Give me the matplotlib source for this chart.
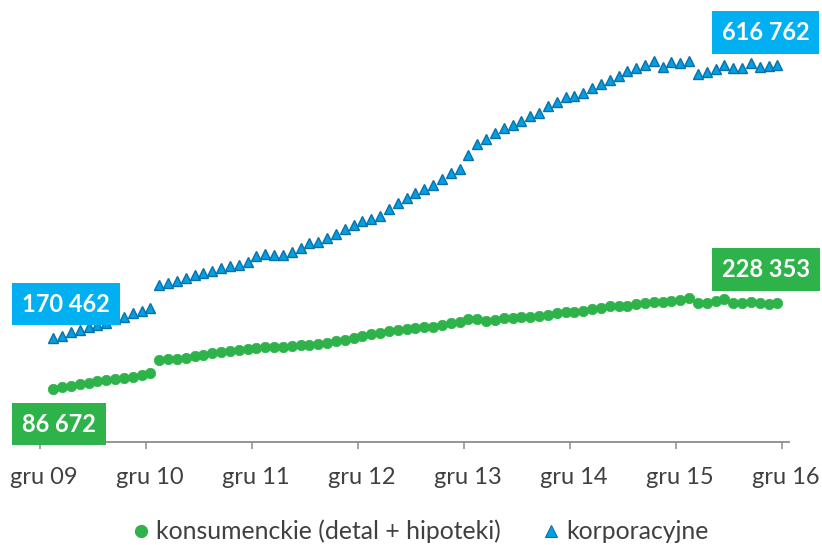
import numpy as np
import matplotlib
matplotlib.use('Agg')
import matplotlib.pyplot as plt
import matplotlib.transforms as mtransforms
from matplotlib.lines import Line2D

plt.rcParams['font.family'] = ['Lato', 'DejaVu Sans']

# monthly values, thousands
konsumenckie = [86.7, 90.9, 92.5, 94.8, 97.0, 99.7, 101.9, 104.0, 105.6, 107.3, 109.5, 112.8,
                134.1, 135.9, 136.8, 138.2, 141.1, 143.6, 146.0, 147.6, 150.1, 151.7, 153.0, 155.0,
                156.3, 155.8, 155.5, 157.5, 158.8, 159.9, 161.2, 162.8, 165.1, 167.3, 170.0,
                174.3, 177.1, 179.2, 182.0, 183.6, 185.2, 186.4, 188.0, 189.0, 191.8, 194.6, 196.7,
                201.1, 201.1, 198.3, 200.0, 202.7,
                202.9, 204.5, 205.7, 207.3, 208.5, 211.1, 212.7, 212.7, 215.5, 218.3, 220.4, 222.5,
                223.7, 223.7, 225.8, 227.4, 229.1,
                229.1, 231.0, 232.2, 236.7, 228.1, 228.1, 230.5, 234.0, 227.3, 227.4, 229.1, 228.1,
                225.8, 228.353]
korporacyjne = [170.462, 173.8, 180.8, 183.6, 188.0, 191.8, 194.6, 201.1, 205.4, 211.9, 214.7, 220.1,
                257.2, 260.0, 264.2, 268.1, 273.5,
                277.3, 280.6, 284.5, 288.3, 289.9, 295.3, 305.1, 307.4, 305.7, 306.2, 311.6, 317.2,
                326.3, 328.0, 333.5, 340.1, 348.3, 355.3,
                361.8, 365.6, 370.0, 381.5, 390.8, 398.9, 408.1, 413.7, 420.7, 430.0, 439.8, 446.4,
                469.7, 487.2, 495.4, 505.2, 513.4,
                518.8, 525.3, 533.5, 538.9, 549.9, 556.9, 565.1, 566.7, 571.6, 578.8, 585.3, 592.4,
                598.9, 607.1, 611.5, 616.9, 623.4,
                614.1, 622.3, 619.7, 623.9, 601.7, 605.9, 610.3, 616.9, 611.5, 611.5, 619.7, 614.1,
                615.7, 616.762]
tick_labels = ['gru 09', 'gru 10', 'gru 11', 'gru 12', 'gru 13', 'gru 14', 'gru 15', 'gru 16']
series_names = ['konsumenckie (detal + hipoteki)', 'korporacyjne']
first_labels = ['86 672', '170 462']
last_labels = ['228 353', '616 762']

green = '#2db34a'
blue_fill = '#00a0e2'
blue_edge = '#0a70aa'
blue_box = '#00b0f0'
axis_grey = '#8c8c8c'
text_grey = '#404040'

x = np.arange(len(korporacyjne)) + 1.5   # months after gru 09

fig = plt.figure(figsize=(8.22, 5.45), dpi=100)
ax = fig.add_axes([0.0401, 0.1884, 0.9197, 0.7855])
ax.set_xlim(-0.8, 84.8)
ax.set_ylim(0, 700)

ax.plot(x, korporacyjne, '^', ms=7.5, mfc=blue_fill, mec=blue_edge, mew=1.0, zorder=3)
ax.plot(x, konsumenckie, 'o', ms=7.5, mfc=green, mec=green, mew=0.5, zorder=3)

for s in ['top', 'left', 'right']:
    ax.spines[s].set_visible(False)
ax.spines['bottom'].set_color(axis_grey)
ax.spines['bottom'].set_linewidth(1.3)
ax.yaxis.set_visible(False)
ax.set_xticks(np.arange(0, 85, 12))
ax.set_xticklabels(tick_labels)
ax.tick_params(axis='x', length=5, width=1.1, color=axis_grey, labelcolor=text_grey,
               labelsize=17, pad=13)
# labels sit a little right of the ticks
shift = mtransforms.ScaledTranslation(4 / 100, 0, fig.dpi_scale_trans)
for lab in ax.get_xticklabels():
    lab.set_transform(lab.get_transform() + shift)

# value boxes
box_kw = dict(ha='center', va='center', color='white', fontsize=17, fontweight='bold',
              textcoords='offset points', zorder=5, annotation_clip=False)
ax.annotate(first_labels[0], (x[0], konsumenckie[0]), xytext=(4, -25),
            bbox=dict(boxstyle='square,pad=0.42', fc=green, ec='none'), **box_kw)
ax.annotate(first_labels[1], (x[0], korporacyjne[0]), xytext=(9, 24.5),
            bbox=dict(boxstyle='square,pad=0.42', fc=blue_box, ec='none'), **box_kw)
ax.annotate(last_labels[0], (x[-1], konsumenckie[-1]), xytext=(-8.5, 24),
            bbox=dict(boxstyle='square,pad=0.42', fc=green, ec='none'), **box_kw)
ax.annotate(last_labels[1], (x[-1], korporacyjne[-1]), xytext=(-8.5, 23.5),
            bbox=dict(boxstyle='square,pad=0.42', fc=blue_box, ec='none'), **box_kw)

handles = [Line2D([], [], ls='none', marker='o', ms=8.5, mfc=green, mec=green),
           Line2D([], [], ls='none', marker='^', ms=8, mfc=blue_fill, mec=blue_edge, mew=0.8)]
fig.legend(handles, series_names, loc='center', bbox_to_anchor=(0.512, 0.025), ncol=2,
           frameon=False, fontsize=17.8, labelcolor=text_grey, handlelength=0.6,
           handletextpad=0.3, columnspacing=1.75, borderaxespad=0)

fig.savefig('out.png', dpi=100)
